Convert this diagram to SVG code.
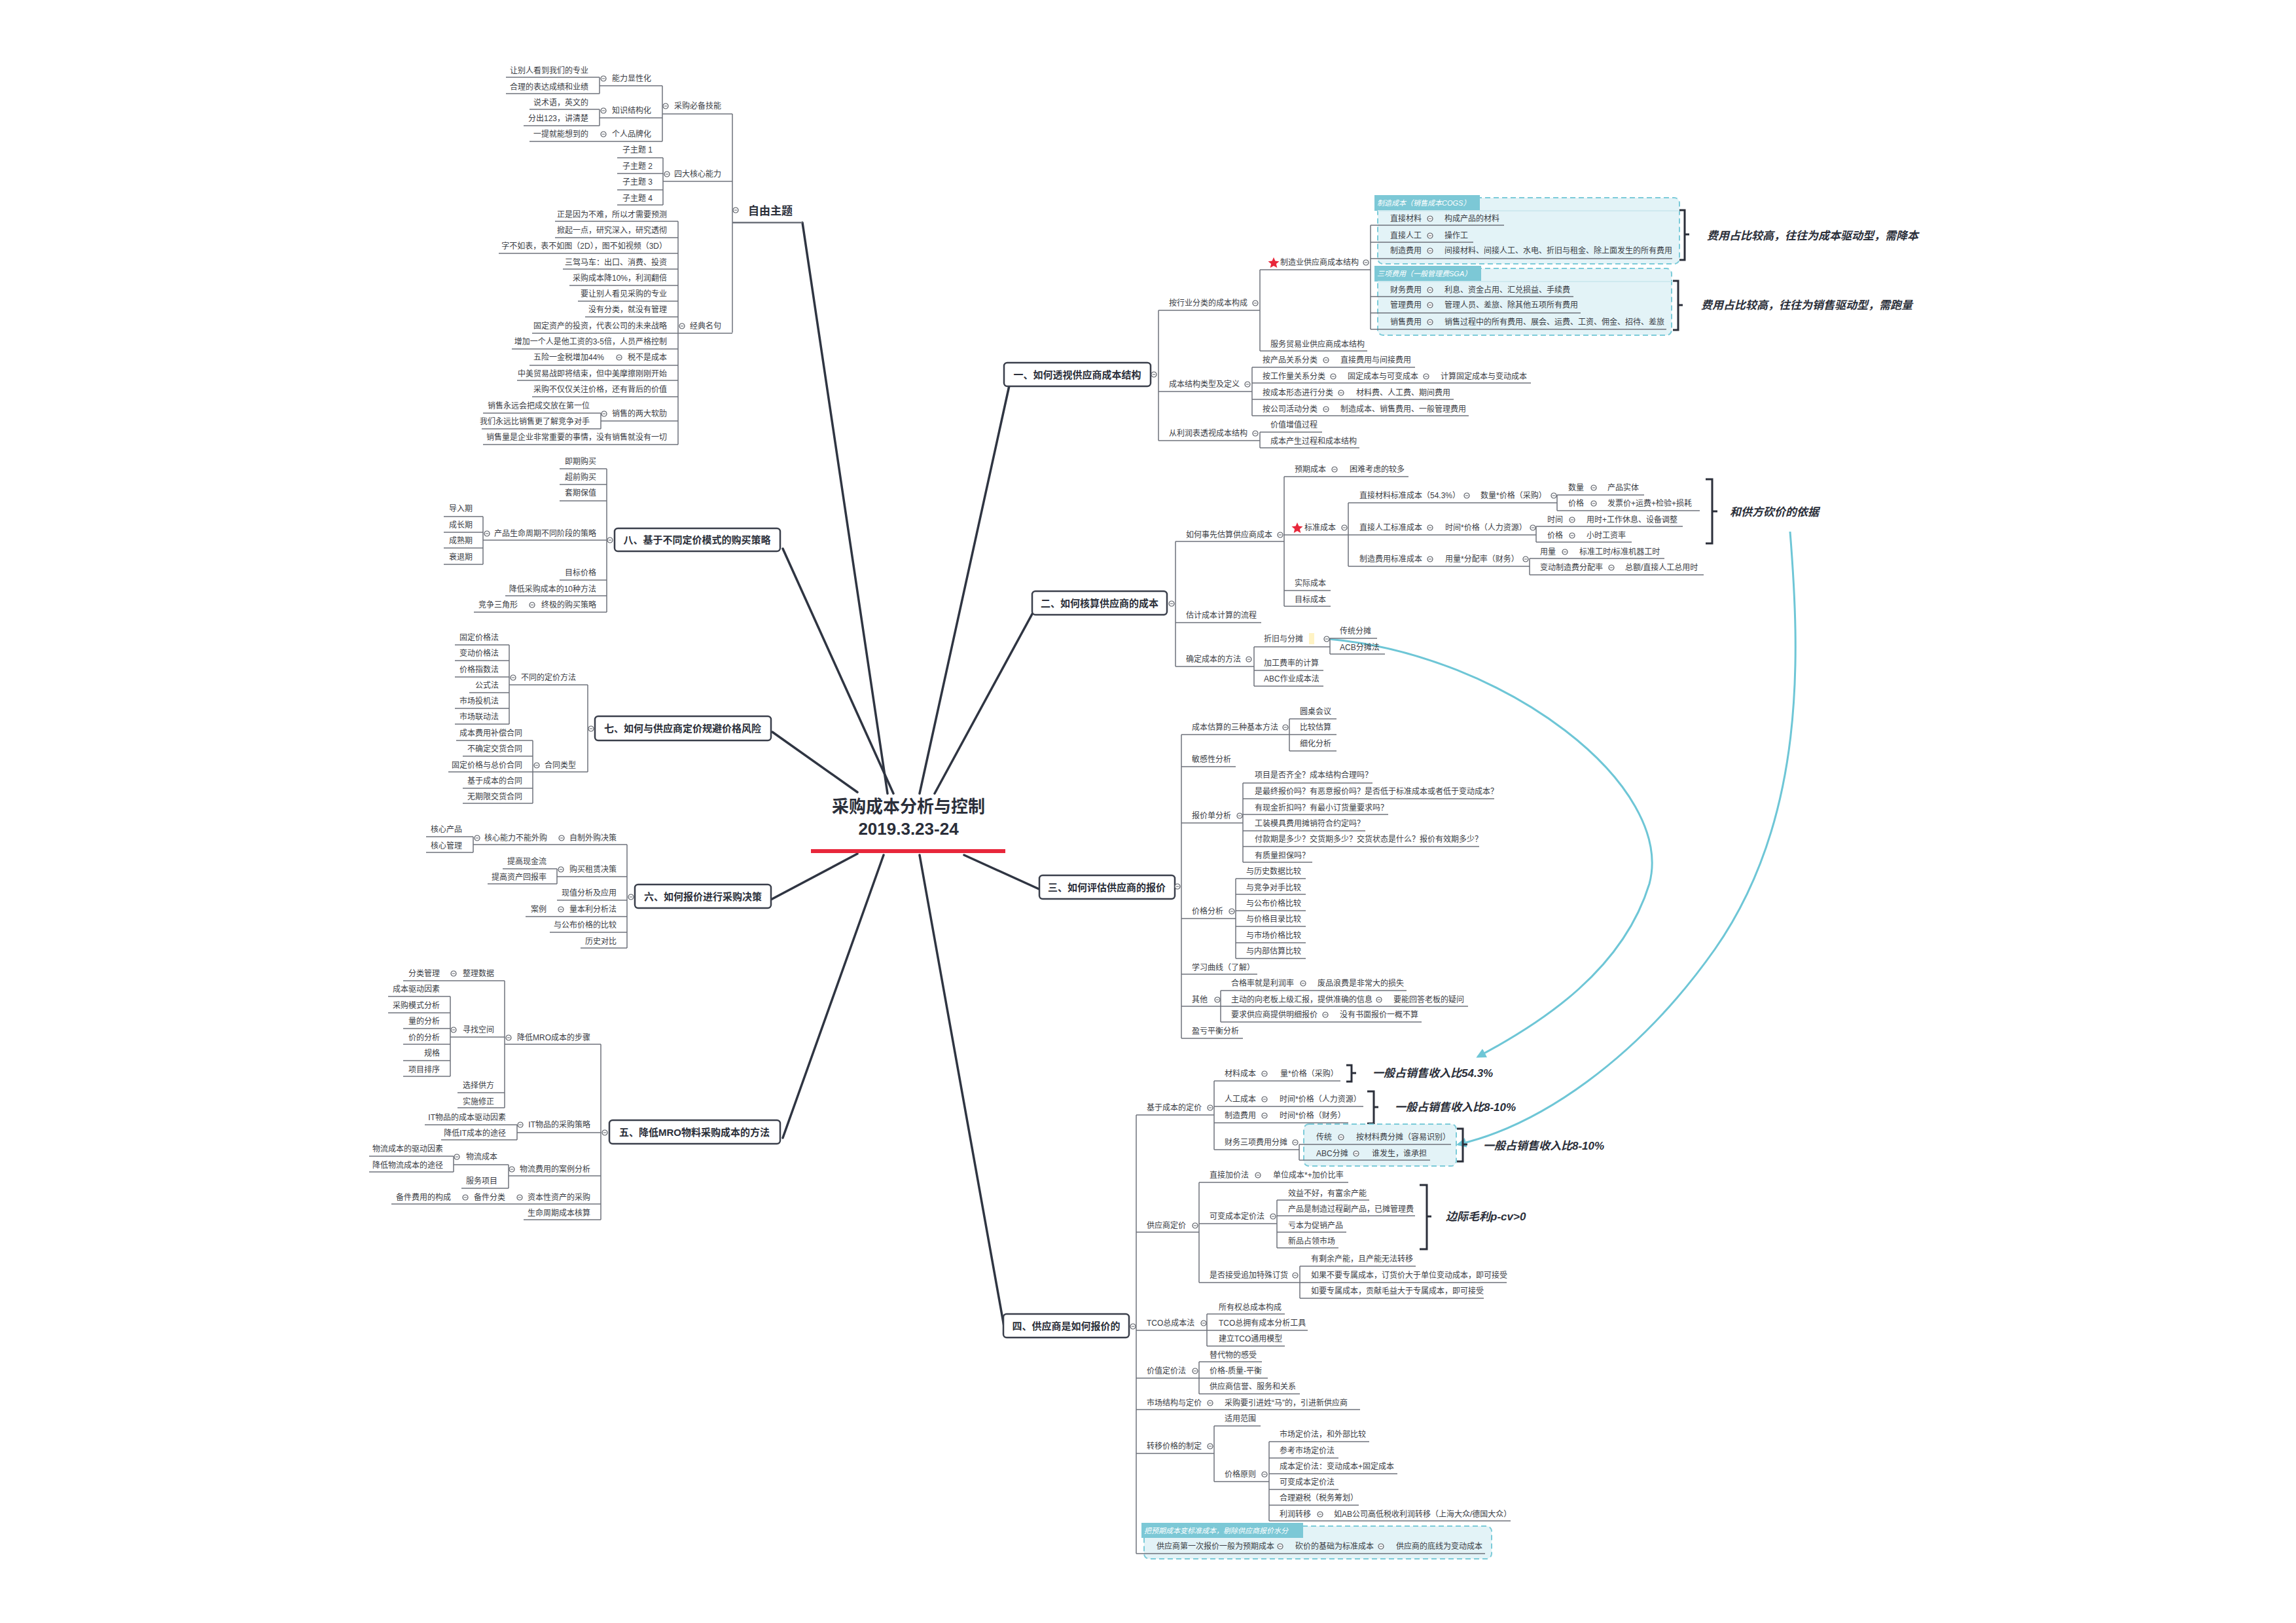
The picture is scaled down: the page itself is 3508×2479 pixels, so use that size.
<svg xmlns="http://www.w3.org/2000/svg" xmlns:xlink="http://www.w3.org/1999/xlink" width="3508" height="2479" viewBox="0 0 3508 2479">
<style>
text{font-family:"Liberation Sans","Noto Sans CJK SC",sans-serif;fill:#3a3d45;font-size:12px}
.e{text-anchor:end}
.c{text-anchor:middle}
.bt{font-size:15px;font-weight:bold;fill:#2b2f3a;text-anchor:middle}
.nt{font-size:17px;font-weight:bold;font-style:italic;fill:#2b2f3a}
.ht{font-size:11px;font-style:italic;fill:#ffffff}
.u{stroke:#6e727b;stroke-width:1.5;fill:none}
.m{stroke:#2f3542;stroke-width:3.5;fill:none;stroke-linecap:round}
.box{fill:#fff;stroke:#3a3f4b;stroke-width:2.5}
.gb{fill:#e3f3f7;stroke:#7ccbd9;stroke-width:2;stroke-dasharray:8 5}
.gh{fill:#7cc8d6}
.br{stroke:#2b2f3a;stroke-width:3;fill:none}
.cv{stroke:#6ec6d6;stroke-width:3;fill:none}
</style>
<defs>
<g id="o"><circle r="4" fill="#fff" stroke="#5a5e66" stroke-width="1.2"/><path d="M-2.2 0H2.2" stroke="#5a5e66" stroke-width="1"/></g>
<marker id="ar" viewBox="0 0 10 10" refX="8" refY="5" markerWidth="5" markerHeight="5" orient="auto"><path d="M0 0L10 5L0 10z" fill="#6ec6d6"/></marker>
</defs>
<rect width="3508" height="2479" fill="#fff"/>

<g id="connectors">
<path class="m" d="M1356 1212L1226 340"/>
<path class="m" d="M1365 1212L1196 838"/>
<path class="m" d="M1310 1210L1180 1118"/>
<path class="m" d="M1310 1304L1178 1374"/>
<path class="m" d="M1350 1306L1196 1738"/>
<path class="m" d="M1405 1212L1544 580"/>
<path class="m" d="M1428 1212L1584 925"/>
<path class="m" d="M1473 1306L1592 1360"/>
<path class="m" d="M1405 1306L1534 2026"/>
<path class="cv" marker-end="url(#ar)" d="M2030 976C2300 1000 2560 1200 2520 1350C2480 1480 2360 1560 2258 1614"/>
<path class="cv" marker-end="url(#ar)" d="M2735 812C2750 1000 2760 1250 2620 1450C2500 1620 2350 1720 2228 1748"/>
</g>

<g id="center">
<text class="c" x="1388" y="1241" style="font-size:26px;font-weight:bold;fill:#2b2f3a">采购成本分析与控制</text>
<text class="c" x="1388" y="1275" style="font-size:26px;font-weight:bold;fill:#2b2f3a">2019.3.23-24</text>
<path d="M1239 1300H1536" stroke="#e8273b" stroke-width="6"/>
</g>

<g id="ziyou">
<text x="1143" y="328" style="font-size:17px;font-weight:bold;fill:#2b2f3a">自由主题</text>
<use href="#o" x="1124" y="321"/>
<path class="u" d="M1119 340H1226" style="stroke-width:2.5"/>
<path class="u" d="M1119 174V508"/>
<text class="e" x="1102" y="166">采购必备技能</text><use href="#o" x="1017" y="162"/><path class="u" d="M1012 174H1119"/>
<path class="u" d="M1012 131V216"/>
<text class="e" x="995" y="124">能力显性化</text><use href="#o" x="922" y="120"/><path class="u" d="M916 131H1012"/>
<path class="u" d="M916 118V143"/>
<text class="e" x="899" y="112">让别人看到我们的专业</text><path class="u" d="M773 118H916"/>
<text class="e" x="899" y="137">合理的表达成绩和业绩</text><path class="u" d="M773 143H916"/>
<text class="e" x="995" y="173">知识结构化</text><use href="#o" x="922" y="169"/><path class="u" d="M916 180H1012"/>
<path class="u" d="M916 167V192"/>
<text class="e" x="899" y="161">说术语，英文的</text><path class="u" d="M809 167H916"/>
<text class="e" x="899" y="185">分出123，讲清楚</text><path class="u" d="M800 192H916"/>
<text class="e" x="995" y="209">个人品牌化</text><use href="#o" x="922" y="205"/><text class="e" x="899" y="209">一提就能想到的</text><path class="u" d="M809 216H1012"/>
<text class="e" x="1102" y="270">四大核心能力</text><use href="#o" x="1019" y="266"/><path class="u" d="M1013 277H1119"/>
<path class="u" d="M1013 241V313"/>
<text class="e" x="997" y="233">子主题 1</text><path class="u" d="M943 241H1013"/>
<text class="e" x="997" y="258">子主题 2</text><path class="u" d="M943 265H1013"/>
<text class="e" x="997" y="282">子主题 3</text><path class="u" d="M943 290H1013"/>
<text class="e" x="997" y="307">子主题 4</text><path class="u" d="M943 313H1013"/>
<text class="e" x="1102" y="502">经典名句</text><use href="#o" x="1042" y="498"/><path class="u" d="M1036 509H1119"/>
<path class="u" d="M1036 338V679"/>
<text class="e" x="1019" y="332">正是因为不难，所以才需要预测</text><path class="u" d="M848 338H1036"/>
<text class="e" x="1019" y="356">掀起一点，研究深入，研究透彻</text><path class="u" d="M848 363H1036"/>
<text class="e" x="1019" y="380">字不如表，表不如图（2D），图不如视频（3D）</text><path class="u" d="M762 387H1036"/>
<text class="e" x="1019" y="405">三驾马车：出口、消费、投资</text><path class="u" d="M860 411H1036"/>
<text class="e" x="1019" y="429">采购成本降10%，利润翻倍</text><path class="u" d="M870 436H1036"/>
<text class="e" x="1019" y="453">要让别人看见采购的专业</text><path class="u" d="M883 460H1036"/>
<text class="e" x="1019" y="477">没有分类，就没有管理</text><path class="u" d="M894 484H1036"/>
<text class="e" x="1019" y="502">固定资产的投资，代表公司的未来战略</text><path class="u" d="M813 509H1036"/>
<text class="e" x="1019" y="526">增加一个人是他工资的3-5倍，人员严格控制</text><path class="u" d="M782 533H1036"/>
<text class="e" x="1019" y="550">税不是成本</text><use href="#o" x="946" y="546"/><text class="e" x="923" y="550">五险一金税增加44%</text><path class="u" d="M809 558H1036"/>
<text class="e" x="1019" y="575">中美贸易战即将结束，但中美摩擦刚刚开始</text><path class="u" d="M790 581H1036"/>
<text class="e" x="1019" y="599">采购不仅仅关注价格，还有背后的价值</text><path class="u" d="M813 606H1036"/>
<text class="e" x="1019" y="636">销售的两大软肋</text><use href="#o" x="923" y="632"/><path class="u" d="M918 643H1036"/>
<path class="u" d="M918 631V655"/>
<text class="e" x="901" y="624">销售永远会把成交放在第一位</text><path class="u" d="M738 631H918"/>
<text class="e" x="901" y="648">我们永远比销售更了解竞争对手</text><path class="u" d="M736 655H918"/>
<text class="e" x="1019" y="672">销售量是企业非常重要的事情，没有销售就没有一切</text><path class="u" d="M738 679H1036"/>
</g>

<g id="b8">
<rect class="box" x="939" y="807" width="253" height="35" rx="5"/>
<text class="bt" x="1065" y="830">八、基于不同定价模式的购买策略</text>
<use href="#o" x="932" y="825"/>
<path class="u" d="M927 716V935"/>
<text class="e" x="911" y="709">即期购买</text><path class="u" d="M855 716H927"/>
<text class="e" x="911" y="733">超前购买</text><path class="u" d="M855 740H927"/>
<text class="e" x="911" y="757">套期保值</text><path class="u" d="M855 765H927"/>
<text class="e" x="911" y="819">产品生命周期不同阶段的策略</text><use href="#o" x="744" y="815"/><path class="u" d="M738 825H927"/>
<path class="u" d="M738 789V862"/>
<text class="e" x="722" y="781">导入期</text><path class="u" d="M678 789H738"/>
<text class="e" x="722" y="806">成长期</text><path class="u" d="M678 813H738"/>
<text class="e" x="722" y="830">成熟期</text><path class="u" d="M678 837H738"/>
<text class="e" x="722" y="855">衰退期</text><path class="u" d="M678 862H738"/>
<text class="e" x="911" y="879">目标价格</text><path class="u" d="M855 886H927"/>
<text class="e" x="911" y="904">降低采购成本的10种方法</text><path class="u" d="M772 910H927"/>
<text class="e" x="911" y="928">终极的购买策略</text><use href="#o" x="813" y="924"/><text class="e" x="791" y="928">竞争三角形</text><path class="u" d="M724 935H927"/>
</g>

<g id="b7">
<rect class="box" x="909" y="1094" width="269" height="37" rx="5"/>
<text class="bt" x="1043" y="1118">七、如何与供应商定价规避价格风险</text>
<use href="#o" x="903" y="1113"/>
<path class="u" d="M898 1046V1179"/>
<text class="e" x="880" y="1039">不同的定价方法</text><use href="#o" x="784" y="1035"/><path class="u" d="M778 1046H898"/>
<path class="u" d="M778 985V1106"/>
<text class="e" x="762" y="978">固定价格法</text><path class="u" d="M695 985H778"/>
<text class="e" x="762" y="1002">变动价格法</text><path class="u" d="M695 1009H778"/>
<text class="e" x="762" y="1027">价格指数法</text><path class="u" d="M695 1034H778"/>
<text class="e" x="762" y="1051">公式法</text><path class="u" d="M717 1058H778"/>
<text class="e" x="762" y="1075">市场投机法</text><path class="u" d="M695 1082H778"/>
<text class="e" x="762" y="1099">市场联动法</text><path class="u" d="M695 1106H778"/>
<text class="e" x="880" y="1173">合同类型</text><use href="#o" x="820" y="1169"/><path class="u" d="M814 1179H898"/>
<path class="u" d="M814 1131V1227"/>
<text class="e" x="798" y="1124">成本费用补偿合同</text><path class="u" d="M697 1131H814"/>
<text class="e" x="798" y="1148">不确定交货合同</text><path class="u" d="M707 1155H814"/>
<text class="e" x="798" y="1173">固定价格与总价合同</text><path class="u" d="M685 1179H814"/>
<text class="e" x="798" y="1197">基于成本的合同</text><path class="u" d="M707 1204H814"/>
<text class="e" x="798" y="1221">无期限交货合同</text><path class="u" d="M707 1227H814"/>
</g>

<g id="b6">
<rect class="box" x="970" y="1351" width="208" height="36" rx="5"/>
<text class="bt" x="1074" y="1375">六、如何报价进行采购决策</text>
<use href="#o" x="964" y="1370"/>
<path class="u" d="M958 1290V1448"/>
<text class="e" x="942" y="1284">自制外购决策</text><use href="#o" x="858" y="1280"/><text class="e" x="836" y="1284">核心能力不能外购</text><use href="#o" x="729" y="1280"/><path class="u" d="M723 1290H958"/>
<path class="u" d="M723 1278V1302"/>
<text class="e" x="706" y="1271">核心产品</text><path class="u" d="M651 1278H723"/>
<text class="e" x="706" y="1296">核心管理</text><path class="u" d="M651 1302H723"/>
<text class="e" x="942" y="1332">购买租赁决策</text><use href="#o" x="857" y="1328"/><path class="u" d="M851 1339H958"/>
<path class="u" d="M851 1327V1350"/>
<text class="e" x="835" y="1320">提高现金流</text><path class="u" d="M768 1327H851"/>
<text class="e" x="835" y="1344">提高资产回报率</text><path class="u" d="M745 1350H851"/>
<text class="e" x="942" y="1368">现值分析及应用</text><path class="u" d="M851 1375H958"/>
<text class="e" x="942" y="1393">量本利分析法</text><use href="#o" x="857" y="1389"/><text class="e" x="835" y="1393">案例</text><path class="u" d="M803 1400H958"/>
<text class="e" x="942" y="1417">与公布价格的比较</text><path class="u" d="M840 1424H958"/>
<text class="e" x="942" y="1442">历史对比</text><path class="u" d="M887 1448H958"/>
</g>

<g id="b5">
<rect class="box" x="931" y="1711" width="261" height="36" rx="5"/>
<text class="bt" x="1061" y="1735">五、降低MRO物料采购成本的方法</text>
<use href="#o" x="924" y="1730"/>
<path class="u" d="M918 1595V1863"/>
<text class="e" x="902" y="1589">降低MRO成本的步骤</text><use href="#o" x="777" y="1585"/><path class="u" d="M771 1595H918"/>
<path class="u" d="M771 1498V1692"/>
<text class="e" x="755" y="1491">整理数据</text><use href="#o" x="693" y="1487"/><text class="e" x="672" y="1491">分类管理</text><path class="u" d="M616 1498H771"/>
<text class="e" x="755" y="1577">寻找空间</text><use href="#o" x="693" y="1573"/><path class="u" d="M688 1584H771"/>
<path class="u" d="M688 1522V1644"/>
<text class="e" x="672" y="1515">成本驱动因素</text><path class="u" d="M593 1522H688"/>
<text class="e" x="672" y="1540">采购模式分析</text><path class="u" d="M593 1547H688"/>
<text class="e" x="672" y="1564">量的分析</text><path class="u" d="M616 1571H688"/>
<text class="e" x="672" y="1589">价的分析</text><path class="u" d="M616 1595H688"/>
<text class="e" x="672" y="1613">规格</text><path class="u" d="M616 1620H688"/>
<text class="e" x="672" y="1638">项目排序</text><path class="u" d="M616 1644H688"/>
<text class="e" x="755" y="1662">选择供方</text><path class="u" d="M699 1669H771"/>
<text class="e" x="755" y="1687">实施修正</text><path class="u" d="M699 1692H771"/>
<text class="e" x="902" y="1722">IT物品的采购策略</text><use href="#o" x="795" y="1718"/><path class="u" d="M790 1730H918"/>
<path class="u" d="M790 1718V1741"/>
<text class="e" x="773" y="1711">IT物品的成本驱动因素</text><path class="u" d="M649 1718H790"/>
<text class="e" x="773" y="1735">降低IT成本的途径</text><path class="u" d="M674 1741H790"/>
<text class="e" x="902" y="1790">物流费用的案例分析</text><use href="#o" x="782" y="1786"/><path class="u" d="M777 1796H918"/>
<path class="u" d="M777 1779V1815"/>
<text class="e" x="760" y="1771">物流成本</text><use href="#o" x="698" y="1767"/><path class="u" d="M693 1779H777"/>
<path class="u" d="M693 1766V1790"/>
<text class="e" x="677" y="1759">物流成本的驱动因素</text><path class="u" d="M564 1766H693"/>
<text class="e" x="677" y="1784">降低物流成本的途径</text><path class="u" d="M564 1790H693"/>
<text class="e" x="760" y="1808">服务项目</text><path class="u" d="M705 1815H777"/>
<text class="e" x="902" y="1833">资本性资产的采购</text><use href="#o" x="794" y="1829"/><text class="e" x="772" y="1833">备件分类</text><use href="#o" x="711" y="1829"/><text class="e" x="689" y="1833">备件费用的构成</text><path class="u" d="M598 1839H918"/>
<text class="e" x="902" y="1857">生命周期成本核算</text><path class="u" d="M800 1863H918"/>
</g>

<g id="b1">
<rect class="box" x="1534" y="554" width="224" height="36" rx="5"/>
<text class="bt" x="1646" y="578">一、如何透视供应商成本结构</text>
<use href="#o" x="1763" y="572"/>
<path class="u" d="M1770 474V673"/>
<text x="1786" y="467">按行业分类的成本构成</text><use href="#o" x="1918" y="463"/><path class="u" d="M1770 474H1925"/>
<path class="u" d="M1925 412V536"/>
<polygon points="1946,393 1948.4,398.6 1954.5,399.2 1949.9,403.1 1951.3,409 1946,405.9 1940.7,409 1942.1,403.1 1937.5,399.2 1943.6,398.6" fill="#e8273b"/>
<text x="1956" y="405">制造业供应商成本结构</text><use href="#o" x="2087" y="401"/><path class="u" d="M1925 412H2094"/>
<path class="u" d="M2094 344V503"/>
<rect class="gb" x="2105" y="302" width="461" height="101" rx="8"/>
<rect class="gh" x="2100" y="298" width="161" height="24"/>
<text class="ht" x="2104" y="314">制造成本（销售成本COGS）</text>
<path d="M2105 322H2566" stroke="#cfe9ef" stroke-width="2"/>
<text x="2124" y="338">直接材料</text><use href="#o" x="2185" y="334"/><text x="2207" y="338">构成产品的材料</text><path class="u" d="M2094 344H2298"/>
<text x="2124" y="364">直接人工</text><use href="#o" x="2185" y="360"/><text x="2207" y="364">操作工</text><path class="u" d="M2094 370H2251"/>
<text x="2124" y="387">制造费用</text><use href="#o" x="2185" y="383"/><text x="2207" y="387">间接材料、间接人工、水电、折旧与租金、除上面发生的所有费用</text><path class="u" d="M2094 395H2555"/>
<path class="br" d="M2566 321H2574V397H2566M2574 358H2581"/>
<text class="nt" x="2608" y="366">费用占比较高，往往为成本驱动型，需降本</text>
<rect class="gb" x="2105" y="410" width="449" height="102" rx="8"/>
<rect class="gh" x="2100" y="406" width="163" height="24"/>
<text class="ht" x="2104" y="422">三项费用（一般管理费SGA）</text>
<path d="M2105 430H2554" stroke="#cfe9ef" stroke-width="2"/>
<text x="2124" y="447">财务费用</text><use href="#o" x="2185" y="443"/><text x="2207" y="447">利息、资金占用、汇兑损益、手续费</text><path class="u" d="M2094 453H2404"/>
<text x="2124" y="470">管理费用</text><use href="#o" x="2185" y="466"/><text x="2207" y="470">管理人员、差旅、除其他五项所有费用</text><path class="u" d="M2094 478H2415"/>
<text x="2124" y="496">销售费用</text><use href="#o" x="2185" y="492"/><text x="2207" y="496">销售过程中的所有费用、展会、运费、工资、佣金、招待、差旅</text><path class="u" d="M2094 503H2546"/>
<path class="br" d="M2556 429H2564V504H2556M2564 466H2571"/>
<text class="nt" x="2599" y="472">费用占比较高，往往为销售驱动型，需跑量</text>
<text x="1941" y="530">服务贸易业供应商成本结构</text><path class="u" d="M1925 536H2089"/>
<text x="1786" y="591">成本结构类型及定义</text><use href="#o" x="1906" y="587"/><path class="u" d="M1770 598H1913"/>
<path class="u" d="M1913 561V635"/>
<text x="1929" y="554">按产品关系分类</text><use href="#o" x="2026" y="550"/><text x="2048" y="554">直接费用与间接费用</text><path class="u" d="M1913 561H2162"/>
<text x="1929" y="579">按工作量关系分类</text><use href="#o" x="2037" y="575"/><text x="2059" y="579">固定成本与可变成本</text><use href="#o" x="2179" y="575"/><text x="2201" y="579">计算固定成本与变动成本</text><path class="u" d="M1913 585H2339"/>
<text x="1929" y="604">按成本形态进行分类</text><use href="#o" x="2049" y="600"/><text x="2072" y="604">材料费、人工费、期间费用</text><path class="u" d="M1913 610H2221"/>
<text x="1929" y="629">按公司活动分类</text><use href="#o" x="2026" y="625"/><text x="2048" y="629">制造成本、销售费用、一般管理费用</text><path class="u" d="M1913 635H2244"/>
<text x="1786" y="666">从利润表透视成本结构</text><use href="#o" x="1918" y="662"/><path class="u" d="M1770 673H1925"/>
<path class="u" d="M1925 660V684"/>
<text x="1941" y="653">价值增值过程</text><path class="u" d="M1925 660H2020"/>
<text x="1941" y="678">成本产生过程和成本结构</text><path class="u" d="M1925 684H2077"/>
</g>

<g id="b2">
<rect class="box" x="1577" y="903" width="206" height="36" rx="5"/>
<text class="bt" x="1680" y="927">二、如何核算供应商的成本</text>
<use href="#o" x="1790" y="922"/>
<path class="u" d="M1796 827V1018"/>
<text x="1812" y="821">如何事先估算供应商成本</text><use href="#o" x="1956" y="817"/><path class="u" d="M1796 827H1962"/>
<path class="u" d="M1962 728V926"/>
<text x="1978" y="721">预期成本</text><use href="#o" x="2039" y="717"/><text x="2062" y="721">困难考虑的较多</text><path class="u" d="M1962 728H2152"/>
<polygon points="1982,798 1984.4,803.6 1990.5,804.2 1985.9,808.1 1987.3,814 1982,810.9 1976.7,814 1978.1,808.1 1973.5,804.2 1979.6,803.6" fill="#e8273b"/>
<text x="1993" y="810">标准成本</text><use href="#o" x="2054" y="806"/><path class="u" d="M1962 817H2060"/>
<path class="u" d="M2060 768V865"/>
<text x="2077" y="761">直接材料标准成本（54.3%）</text><use href="#o" x="2241" y="757"/><text x="2262" y="761">数量*价格（采购）</text><use href="#o" x="2374" y="757"/><path class="u" d="M2060 768H2379"/>
<path class="u" d="M2379 756V780"/>
<text x="2396" y="749">数量</text><use href="#o" x="2435" y="745"/><text x="2456" y="749">产品实体</text><path class="u" d="M2379 756H2512"/>
<text x="2396" y="773">价格</text><use href="#o" x="2435" y="769"/><text x="2456" y="773">发票价+运费+检验+损耗</text><path class="u" d="M2379 780H2597"/>
<text x="2077" y="810">直接人工标准成本</text><use href="#o" x="2185" y="806"/><text x="2208" y="810">时间*价格（人力资源）</text><use href="#o" x="2342" y="806"/><path class="u" d="M2060 817H2347"/>
<path class="u" d="M2347 804V828"/>
<text x="2364" y="798">时间</text><use href="#o" x="2402" y="794"/><text x="2424" y="798">用时+工作休息、设备调整</text><path class="u" d="M2347 804H2571"/>
<text x="2364" y="822">价格</text><use href="#o" x="2402" y="818"/><text x="2424" y="822">小时工资率</text><path class="u" d="M2347 828H2493"/>
<text x="2077" y="858">制造费用标准成本</text><use href="#o" x="2185" y="854"/><text x="2208" y="858">用量*分配率（财务）</text><use href="#o" x="2331" y="854"/><path class="u" d="M2060 865H2337"/>
<path class="u" d="M2337 853V878"/>
<text x="2353" y="847">用量</text><use href="#o" x="2391" y="843"/><text x="2413" y="847">标准工时/标准机器工时</text><path class="u" d="M2337 853H2543"/>
<text x="2353" y="871">变动制造费分配率</text><use href="#o" x="2462" y="867"/><text x="2483" y="871">总额/直接人工总用时</text><path class="u" d="M2337 878H2603"/>
<path class="br" d="M2606 732H2616V830H2606M2616 781H2624"/>
<text class="nt" x="2643" y="788">和供方砍价的依据</text>
<text x="1978" y="895">实际成本</text><path class="u" d="M1962 902H2033"/>
<text x="1978" y="920">目标成本</text><path class="u" d="M1962 926H2033"/>
<text x="1812" y="944">估计成本计算的流程</text><path class="u" d="M1796 951H1927"/>
<text x="1812" y="1011">确定成本的方法</text><use href="#o" x="1908" y="1007"/><path class="u" d="M1796 1018H1916"/>
<path class="u" d="M1916 988V1048"/>
<text x="1931" y="980">折旧与分摊</text><rect x="2000" y="967" width="8" height="17" fill="#fff3c4"/><use href="#o" x="2027" y="976"/><path class="u" d="M1916 988H2032"/>
<path class="u" d="M2032 975V999"/>
<text x="2047" y="968">传统分摊</text><path class="u" d="M2032 975H2104"/>
<text x="2047" y="993">ACB分摊法</text><path class="u" d="M2032 999H2116"/>
<text x="1931" y="1017">加工费率的计算</text><path class="u" d="M1916 1024H2022"/>
<text x="1931" y="1041">ABC作业成本法</text><path class="u" d="M1916 1048H2022"/>
</g>

<g id="b3">
<rect class="box" x="1588" y="1337" width="207" height="36" rx="5"/>
<text class="bt" x="1691" y="1361">三、如何评估供应商的报价</text>
<use href="#o" x="1799" y="1354"/>
<path class="u" d="M1805 1122V1586"/>
<text x="1821" y="1115">成本估算的三种基本方法</text><use href="#o" x="1964" y="1111"/><path class="u" d="M1805 1122H1970"/>
<path class="u" d="M1970 1098V1147"/>
<text x="1986" y="1091">圆桌会议</text><path class="u" d="M1970 1098H2042"/>
<text x="1986" y="1115">比较估算</text><path class="u" d="M1970 1122H2042"/>
<text x="1986" y="1140">细化分析</text><path class="u" d="M1970 1147H2042"/>
<text x="1821" y="1164">敏感性分析</text><path class="u" d="M1805 1171H1888"/>
<text x="1821" y="1250">报价单分析</text><use href="#o" x="1894" y="1246"/><path class="u" d="M1805 1257H1899"/>
<path class="u" d="M1899 1196V1317"/>
<text x="1917" y="1188">项目是否齐全？成本结构合理吗？</text><path class="u" d="M1899 1196H2097"/>
<text x="1917" y="1213">是最终报价吗？有恶意报价吗？是否低于标准成本或者低于变动成本？</text><path class="u" d="M1899 1220H2283"/>
<text x="1917" y="1238">有现金折扣吗？有最小订货量要求吗？</text><path class="u" d="M1899 1244H2121"/>
<text x="1917" y="1262">工装模具费用摊销符合约定吗？</text><path class="u" d="M1899 1269H2086"/>
<text x="1917" y="1286">付款期是多少？交货期多少？交货状态是什么？报价有效期多少？</text><path class="u" d="M1899 1293H2260"/>
<text x="1917" y="1311">有质量担保吗？</text><path class="u" d="M1899 1317H2005"/>
<text x="1821" y="1396">价格分析</text><use href="#o" x="1882" y="1392"/><path class="u" d="M1805 1403H1888"/>
<path class="u" d="M1888 1342V1464"/>
<text x="1904" y="1335">与历史数据比较</text><path class="u" d="M1888 1342H1995"/>
<text x="1904" y="1360">与竞争对手比较</text><path class="u" d="M1888 1366H1995"/>
<text x="1904" y="1384">与公布价格比较</text><path class="u" d="M1888 1391H1995"/>
<text x="1904" y="1408">与价格目录比较</text><path class="u" d="M1888 1415H1995"/>
<text x="1904" y="1433">与市场价格比较</text><path class="u" d="M1888 1440H1995"/>
<text x="1904" y="1457">与内部估算比较</text><path class="u" d="M1888 1464H1995"/>
<text x="1821" y="1482">学习曲线（了解）</text><path class="u" d="M1805 1488H1921"/>
<text x="1821" y="1531">其他</text><use href="#o" x="1860" y="1527"/><path class="u" d="M1805 1537H1865"/>
<path class="u" d="M1865 1513V1561"/>
<text x="1881" y="1506">合格率就是利润率</text><use href="#o" x="1991" y="1502"/><text x="2013" y="1506">废品浪费是非常大的损失</text><path class="u" d="M1865 1513H2149"/>
<text x="1881" y="1531">主动的向老板上级汇报，提供准确的信息</text><use href="#o" x="2107" y="1527"/><text x="2129" y="1531">要能回答老板的疑问</text><path class="u" d="M1865 1537H2243"/>
<text x="1881" y="1554">要求供应商提供明细报价</text><use href="#o" x="2025" y="1550"/><text x="2047" y="1554">没有书面报价一概不算</text><path class="u" d="M1865 1561H2172"/>
<text x="1821" y="1579">盈亏平衡分析</text><path class="u" d="M1805 1586H1899"/>
</g>

<g id="b4">
<rect class="box" x="1533" y="2007" width="192" height="36" rx="5"/>
<text class="bt" x="1629" y="2031">四、供应商是如何报价的</text>
<use href="#o" x="1731" y="2026"/>
<path class="u" d="M1736 1703V2373"/>
<text x="1752" y="1696">基于成本的定价</text><use href="#o" x="1849" y="1692"/><path class="u" d="M1736 1703H1855"/>
<path class="u" d="M1855 1651V1756"/>
<text x="1871" y="1644">材料成本</text><use href="#o" x="1932" y="1640"/><text x="1956" y="1644">量*价格（采购）</text><path class="u" d="M1855 1651H2048"/>
<path class="br" d="M2057 1627H2065V1652H2057M2065 1639H2072"/>
<text class="nt" x="2097" y="1645">一般占销售收入比54.3%</text>
<text x="1871" y="1683">人工成本</text><use href="#o" x="1932" y="1679"/><text x="1955" y="1683">时间*价格（人力资源）</text><path class="u" d="M1855 1690H2083"/>
<text x="1871" y="1708">制造费用</text><use href="#o" x="1932" y="1704"/><text x="1955" y="1708">时间*价格（财务）</text><path class="u" d="M1855 1715H2060"/>
<path class="br" d="M2089 1667H2099V1716H2089M2099 1691H2106"/>
<text class="nt" x="2131" y="1697">一般占销售收入比8-10%</text>
<rect class="gb" x="1992" y="1717" width="233" height="64" rx="8"/>
<text x="1871" y="1749">财务三项费用分摊</text><use href="#o" x="1979" y="1745"/><path class="u" d="M1855 1756H1985"/>
<path class="u" d="M1985 1748V1772"/>
<text x="2011" y="1741">传统</text><use href="#o" x="2049" y="1737"/><text x="2072" y="1741">按材料费分摊（容易识别）</text><path class="u" d="M1985 1748H2217"/>
<text x="2011" y="1766">ABC分摊</text><use href="#o" x="2072" y="1762"/><text x="2096" y="1766">谁发生，谁承担</text><path class="u" d="M1985 1772H2185"/>
<path class="br" d="M2226 1724H2235V1774H2226M2235 1748H2242"/>
<text class="nt" x="2266" y="1756">一般占销售收入比8-10%</text>
<text x="1752" y="1876">供应商定价</text><use href="#o" x="1826" y="1872"/><path class="u" d="M1736 1882H1832"/>
<path class="u" d="M1832 1806V1959"/>
<text x="1848" y="1799">直接加价法</text><use href="#o" x="1922" y="1795"/><text x="1945" y="1799">单位成本*+加价比率</text><path class="u" d="M1832 1806H2060"/>
<text x="1848" y="1862">可变成本定价法</text><use href="#o" x="1945" y="1858"/><path class="u" d="M1832 1869H1951"/>
<path class="u" d="M1951 1833V1906"/>
<text x="1968" y="1827">效益不好，有富余产能</text><path class="u" d="M1951 1833H2092"/>
<text x="1968" y="1851">产品是制造过程副产品，已摊管理费</text><path class="u" d="M1951 1857H2162"/>
<text x="1968" y="1876">亏本为促销产品</text><path class="u" d="M1951 1882H2057"/>
<text x="1968" y="1900">新品占领市场</text><path class="u" d="M1951 1906H2045"/>
<path class="br" d="M2169 1810H2180V1908H2169M2180 1858H2187"/>
<text class="nt" x="2209" y="1864">边际毛利p-cv&gt;0</text>
<text x="1848" y="1952">是否接受追加特殊订货</text><use href="#o" x="1979" y="1948"/><path class="u" d="M1832 1959H1986"/>
<path class="u" d="M1986 1934V1983"/>
<text x="2003" y="1927">有剩余产能，且产能无法转移</text><path class="u" d="M1986 1934H2163"/>
<text x="2003" y="1952">如果不要专属成本，订货价大于单位变动成本，即可接受</text><path class="u" d="M1986 1959H2302"/>
<text x="2003" y="1976">如要专属成本，贡献毛益大于专属成本，即可接受</text><path class="u" d="M1986 1983H2267"/>
<text x="1752" y="2025">TCO总成本法</text><use href="#o" x="1839" y="2021"/><path class="u" d="M1736 2032H1844"/>
<path class="u" d="M1844 2007V2056"/>
<text x="1862" y="2001">所有权总成本构成</text><path class="u" d="M1844 2007H1963"/>
<text x="1862" y="2025">TCO总拥有成本分析工具</text><path class="u" d="M1844 2032H1998"/>
<text x="1862" y="2049">建立TCO通用模型</text><path class="u" d="M1844 2056H1963"/>
<text x="1752" y="2098">价值定价法</text><use href="#o" x="1826" y="2094"/><path class="u" d="M1736 2105H1832"/>
<path class="u" d="M1832 2080V2129"/>
<text x="1848" y="2074">替代物的感受</text><path class="u" d="M1832 2080H1928"/>
<text x="1848" y="2098">价格-质量-平衡</text><path class="u" d="M1832 2105H1937"/>
<text x="1848" y="2122">供应商信誉、服务和关系</text><path class="u" d="M1832 2129H1986"/>
<text x="1752" y="2147">市场结构与定价</text><use href="#o" x="1849" y="2143"/><text x="1871" y="2147">采购要引进姓“马”的，引进新供应商</text><path class="u" d="M1736 2153H2078"/>
<text x="1752" y="2213">转移价格的制定</text><use href="#o" x="1849" y="2209"/><path class="u" d="M1736 2220H1855"/>
<path class="u" d="M1855 2178V2263"/>
<text x="1871" y="2171">适用范围</text><path class="u" d="M1855 2178H1926"/>
<text x="1871" y="2256">价格原则</text><use href="#o" x="1932" y="2252"/><path class="u" d="M1855 2263H1939"/>
<path class="u" d="M1939 2202V2323"/>
<text x="1955" y="2195">市场定价法，和外部比较</text><path class="u" d="M1939 2202H2092"/>
<text x="1955" y="2220">参考市场定价法</text><path class="u" d="M1939 2227H2045"/>
<text x="1955" y="2244">成本定价法：变动成本+固定成本</text><path class="u" d="M1939 2251H2135"/>
<text x="1955" y="2268">可变成本定价法</text><path class="u" d="M1939 2275H2045"/>
<text x="1955" y="2292">合理避税（税务筹划）</text><path class="u" d="M1939 2299H2076"/>
<text x="1955" y="2317">利润转移</text><use href="#o" x="2017" y="2313"/><text x="2038" y="2317">如AB公司高低税收利润转移（上海大众/德国大众）</text><path class="u" d="M1939 2323H2308"/>
<rect class="gb" x="1748" y="2331" width="531" height="50" rx="8"/>
<rect class="gh" x="1744" y="2326" width="247" height="23"/>
<text class="ht" x="1748" y="2342">把预期成本变标准成本，剔除供应商报价水分</text>
<text x="1767" y="2366">供应商第一次报价一般为预期成本</text><use href="#o" x="1956" y="2362"/><text x="1979" y="2366">砍价的基础为标准成本</text><use href="#o" x="2110" y="2362"/><text x="2133" y="2366">供应商的底线为变动成本</text><path class="u" d="M1736 2373H2269"/>
</g>
</svg>
